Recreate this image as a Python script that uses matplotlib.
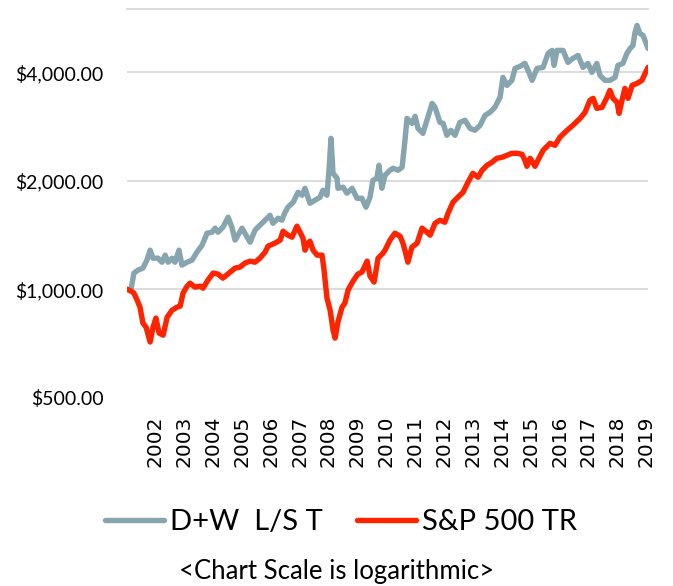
import matplotlib
matplotlib.use("Agg")
import matplotlib.pyplot as plt
from matplotlib.ticker import FixedLocator, NullLocator

# Valores (posicion en anos, valor en $)
sp_years = [2001.03, 2001.17, 2001.27, 2001.38, 2001.48, 2001.58, 2001.69, 2001.83, 2001.93, 2002.03,
            2002.14, 2002.28, 2002.42, 2002.59, 2002.76, 2002.87, 2002.97, 2003.11, 2003.21, 2003.38,
            2003.56, 2003.66, 2003.83, 2004.01, 2004.18, 2004.35, 2004.60, 2004.77, 2004.94, 2005.11,
            2005.29, 2005.46, 2005.63, 2005.81, 2005.91, 2006.15, 2006.33, 2006.43, 2006.60, 2006.74,
            2006.91, 2007.02, 2007.12, 2007.19, 2007.29, 2007.36, 2007.47, 2007.61, 2007.78, 2007.85,
            2007.95, 2008.06, 2008.16, 2008.23, 2008.33, 2008.47, 2008.57, 2008.68, 2008.85, 2009.02,
            2009.16, 2009.34, 2009.44, 2009.58, 2009.72, 2009.89, 2009.96, 2010.13, 2010.30, 2010.48,
            2010.58, 2010.69, 2010.75, 2010.89, 2011.07, 2011.24, 2011.41, 2011.52, 2011.69, 2011.86,
            2012.03, 2012.14, 2012.31, 2012.48, 2012.66, 2012.83, 2013.00, 2013.18, 2013.32, 2013.49,
            2013.66, 2013.83, 2014.01, 2014.18, 2014.35, 2014.53, 2014.70, 2014.80, 2014.87, 2014.98,
            2015.15, 2015.25, 2015.43, 2015.67, 2015.84, 2016.01, 2016.26, 2016.46, 2016.71, 2016.88,
            2017.05, 2017.16, 2017.29, 2017.47, 2017.64, 2017.74, 2017.85, 2017.99, 2018.06, 2018.16,
            2018.26, 2018.37, 2018.51, 2018.68, 2018.85, 2018.96, 2019.06]
sp_values = [1000, 987, 975, 932, 891, 805, 784, 713, 784, 831,
             755, 745, 836, 874, 891, 897, 975, 1019, 1039, 1013,
             1019, 1006, 1059, 1108, 1101, 1073, 1115, 1144, 1151, 1181,
             1196, 1188, 1219, 1267, 1316, 1342, 1368, 1448, 1412, 1394,
             1496, 1439, 1385, 1283, 1342, 1359, 1283, 1243, 1243, 1129,
             944, 874, 770, 731, 810, 891, 914, 994, 1052, 1101,
             1115, 1196, 1087, 1046, 1219, 1259, 1283, 1368, 1430, 1403,
             1342, 1243, 1188, 1308, 1342, 1477, 1439, 1412, 1524, 1554,
             1534, 1625, 1743, 1800, 1858, 1981, 2098, 2045, 2139, 2208,
             2251, 2309, 2324, 2354, 2384, 2384, 2369, 2280, 2194, 2309,
             2194, 2280, 2430, 2541, 2509, 2641, 2762, 2851, 2981, 3098,
             3345, 3388, 3178, 3199, 3410, 3565, 3388, 3302, 3078, 3345,
             3611, 3388, 3681, 3728, 3801, 3974, 4130]

dw_years = [2001.17, 2001.27, 2001.41, 2001.58, 2001.72, 2001.83, 2001.93, 2002.10, 2002.24, 2002.35,
            2002.45, 2002.59, 2002.69, 2002.83, 2002.93, 2003.11, 2003.28, 2003.45, 2003.63, 2003.80,
            2003.97, 2004.08, 2004.18, 2004.35, 2004.53, 2004.66, 2004.77, 2004.87, 2005.01, 2005.11,
            2005.29, 2005.46, 2005.63, 2005.81, 2005.98, 2006.08, 2006.26, 2006.39, 2006.50, 2006.60,
            2006.78, 2006.95, 2007.09, 2007.19, 2007.36, 2007.54, 2007.71, 2007.81, 2007.95, 2008.02,
            2008.09, 2008.16, 2008.30, 2008.33, 2008.51, 2008.64, 2008.82, 2008.99, 2009.16, 2009.30,
            2009.44, 2009.54, 2009.68, 2009.75, 2009.85, 2009.96, 2010.13, 2010.24, 2010.41, 2010.55,
            2010.65, 2010.72, 2010.89, 2011.00, 2011.10, 2011.27, 2011.41, 2011.59, 2011.69, 2011.86,
            2011.97, 2012.10, 2012.24, 2012.38, 2012.55, 2012.73, 2012.90, 2013.07, 2013.25, 2013.42,
            2013.59, 2013.76, 2013.94, 2014.04, 2014.18, 2014.35, 2014.46, 2014.63, 2014.80, 2014.91,
            2015.05, 2015.22, 2015.43, 2015.60, 2015.74, 2015.81, 2015.91, 2016.12, 2016.29, 2016.46,
            2016.64, 2016.81, 2016.98, 2017.12, 2017.29, 2017.40, 2017.57, 2017.74, 2017.92, 2018.02,
            2018.19, 2018.33, 2018.44, 2018.54, 2018.61, 2018.68, 2018.78, 2018.89, 2019.06]
dw_values = [1000, 1108, 1129, 1144, 1204, 1283, 1219, 1219, 1188, 1243,
             1188, 1219, 1188, 1283, 1166, 1188, 1204, 1267, 1325, 1430,
             1439, 1477, 1439, 1486, 1584, 1486, 1368, 1412, 1477, 1430,
             1350, 1458, 1505, 1554, 1604, 1524, 1574, 1554, 1635, 1689,
             1743, 1858, 1823, 1906, 1732, 1766, 1800, 1882, 1823, 2139,
             2624, 2098, 2032, 1906, 1919, 1847, 1906, 1788, 1788, 1689,
             1800, 2006, 2032, 2208, 1906, 2072, 2139, 2166, 2139, 2180,
             2591, 2981, 2888, 3020, 2797, 2709, 2944, 3281, 3199, 2906,
             2888, 2675, 2762, 2675, 2906, 2944, 2797, 2762, 2851, 3039,
             3098, 3199, 3410, 3874, 3681, 3801, 4104, 4157, 4237, 4052,
             3801, 4104, 4130, 4516, 4604, 4183, 4604, 4604, 4264, 4374,
             4459, 4130, 4237, 4000, 4237, 3924, 3801, 3801, 3874, 4183,
             4237, 4516, 4663, 4753, 5164, 5401, 5132, 5067, 4663]

year_ticks = list(range(2002, 2020))
y_ticks = [500, 1000, 2000, 4000]
y_labels = ['$500.00', '$1,000.00', '$2,000.00', '$4,000.00']

gray = '#87A5AF'
red = '#FF2400'
grid_color = '#D9D9D9'

fig = plt.figure(figsize=(6.73, 5.86), dpi=100)
ax = fig.add_axes([127 / 673, 1 - 397.5 / 586, 521 / 673, 388.5 / 586])

ax.set_yscale('log')
ax.set_ylim(500, 6000)
ax.set_xlim(2001.03, 2019.06)

for level in y_ticks[1:]:
    ax.axhline(level, color=grid_color, lw=1.3, zorder=1)

ax.plot(dw_years, dw_values, color=gray, lw=3.9, solid_joinstyle='round',
        solid_capstyle='round', label='D+W  L/S T', zorder=2)
ax.plot(sp_years, sp_values, color=red, lw=3.9, solid_joinstyle='round',
        solid_capstyle='round', label='S&P 500 TR', zorder=3)

ax.yaxis.set_major_locator(FixedLocator(y_ticks))
ax.yaxis.set_minor_locator(NullLocator())
ax.set_yticklabels(y_labels, fontfamily='Lato', fontsize=14)
ax.set_xticks(year_ticks)
ax.set_xticklabels([str(y) for y in year_ticks], rotation=90, fontfamily='DejaVu Sans', fontsize=14.5)
ax.tick_params(axis='both', length=0)
ax.tick_params(axis='y', pad=17)
ax.tick_params(axis='x', pad=13)

for side in ['left', 'right', 'bottom']:
    ax.spines[side].set_visible(False)
ax.spines['top'].set_color(grid_color)
ax.spines['top'].set_linewidth(1.3)

fig.legend(loc='center', bbox_to_anchor=(341 / 673, 1 - 522 / 586), ncol=2, frameon=False,
           prop={'family': 'Lato', 'size': 21}, handlelength=2.0, handletextpad=0.2,
           columnspacing=1.2)

fig.text(337 / 673, 1 - 571 / 586, '<Chart Scale is logarithmic>', ha='center', va='center',
         fontfamily='Lato', fontsize=18.5)

fig.savefig('out.png', dpi=100)
